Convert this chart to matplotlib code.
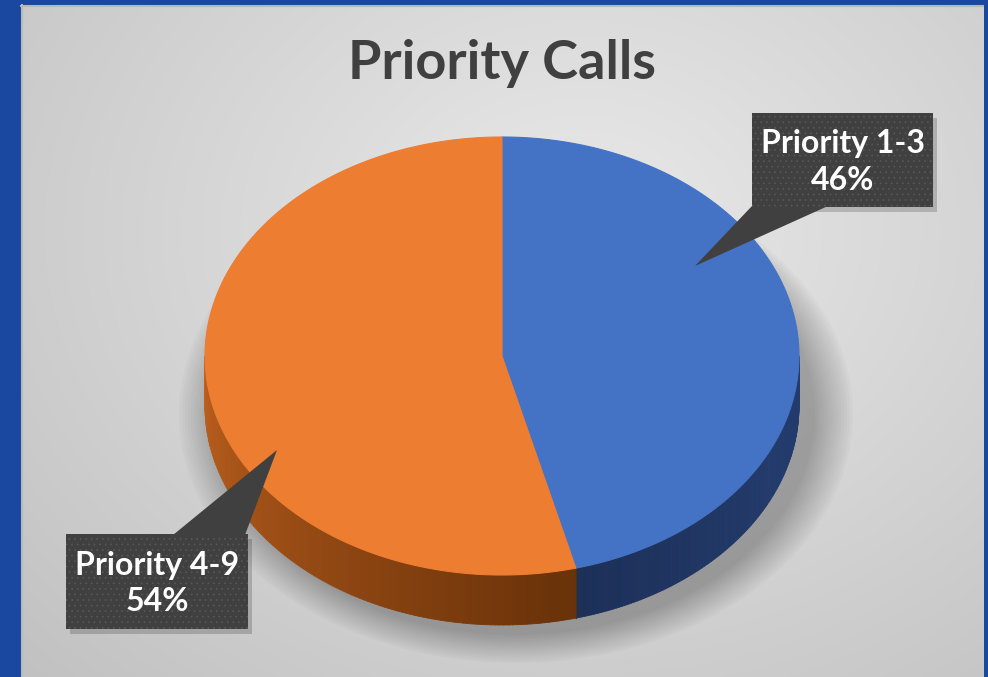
import numpy as np
import matplotlib
matplotlib.use('Agg')
import matplotlib.pyplot as plt
from matplotlib.patches import Polygon, Rectangle, Ellipse
from matplotlib.collections import PolyCollection

plt.rcParams['font.family'] = ['Lato', 'DejaVu Sans']

# chart data
labels = ['Priority 1-3', 'Priority 4-9']
shares = [46, 54]
top_colors = ['#4472C4', '#ED7D31']
side_light = ['#233B6C', '#BE601E']
side_dark = ['#1C3058', '#6B3309']

W, H = 988, 677
fig = plt.figure(figsize=(W / 100, H / 100), dpi=100)
ax = fig.add_axes([0, 0, 1, 1])
ax.set_xlim(0, W)
ax.set_ylim(H, 0)
ax.axis('off')

# blue frame + gray radial gradient panel
ax.add_patch(Rectangle((0, 0), W, H, color='#1A47A0', zorder=0))
px0, py0, px1, py1 = 21, 5, 983, H
yy, xx = np.mgrid[py0:py1, px0:px1]
r = np.hypot((xx - 580) / 700.0, (yy - 230) / 560.0)
g = np.clip(0.915 - 0.14 * r, 0.76, 0.92)
img = np.dstack([g, g, g])
ax.imshow(img, extent=(px0, px1, py1, py0), zorder=1, aspect='auto', interpolation='bilinear')
ax.plot([px0, px1], [py0 + 1, py0 + 1], color='#B8B8B8', lw=1.5, zorder=1.1)
ax.plot([px0 + 1, px0 + 1], [py0, py1], color='#B8B8B8', lw=1.5, zorder=1.1)

# title
ax.text(502, 64, 'Priority Calls', ha='center', va='center', fontsize=39,
        fontweight='bold', color='#404040', zorder=5)

# pie geometry
cx, cy, a, b, depth = 502, 356, 297, 219, 50

def pt(theta, dy=0.0):
    t = np.radians(theta)
    return cx + a * np.cos(t), cy - b * np.sin(t) + dy

# soft shadow under pie
for i in range(14):
    k = i / 13.0
    ax.add_patch(Ellipse((cx + 14, cy + depth + 8), 2 * (a + 40 - 38 * k), 2 * (b + 30 - 28 * k),
                         color='black', alpha=0.018, lw=0, zorder=2))

total = float(sum(shares))
start = 90.0
slices = []
for i, s in enumerate(shares):
    t1 = start
    t2 = start - s / total * 360.0
    slices.append((t1, t2))
    start = t2

# side walls (front half only: angles 180..360)
for i, (t1, t2) in enumerate(slices):
    lo, hi = t2 % 360, t1 % 360
    if hi <= lo:
        hi += 360
    seg_lo, seg_hi = max(lo, 180), min(hi, 360)
    if seg_hi <= seg_lo:
        continue
    ts = np.linspace(seg_lo, seg_hi, 120)
    quads, cols = [], []
    c1 = np.array(matplotlib.colors.to_rgb(side_light[i]))
    c2 = np.array(matplotlib.colors.to_rgb(side_dark[i]))
    for j in range(len(ts) - 1):
        p1, p2 = pt(ts[j]), pt(ts[j + 1])
        q = [p1, p2, pt(ts[j + 1], depth), pt(ts[j], depth)]
        quads.append(q)
        tm = 0.5 * (ts[j] + ts[j + 1])
        if i == 1:
            f = np.clip((tm - 180) / 100.0, 0, 1)
        else:
            f = np.clip((tm - 285) / 50.0, 0, 1)
            f = 1 - f
        cols.append(c1 * (1 - f) + c2 * f)
    ax.add_collection(PolyCollection(quads, facecolors=cols, edgecolors=cols, lw=0.6, zorder=3))

# cut edge at the slice boundary on the front
for t1, t2 in slices:
    for t in (t1, t2):
        tt = t % 360
        if 180 < tt < 360:
            x0, y0 = pt(tt)
            ax.plot([x0, x0], [y0, y0 + depth], color='#4A3020', lw=0.8, zorder=3.1)

# top faces
for i, (t1, t2) in enumerate(slices):
    ts = np.linspace(t1, t2, 300)
    poly = [(cx, cy)] + [pt(t) for t in ts]
    ax.add_patch(Polygon(poly, closed=True, facecolor=top_colors[i],
                         edgecolor=top_colors[i], lw=0.8, zorder=4))

# callouts
def callout(box, tri, text):
    x0, y0, x1, y1 = box
    ax.add_patch(Rectangle((x0 + 4, y0 + 5), x1 - x0, y1 - y0, color='black', alpha=0.18, lw=0, zorder=5))
    ax.add_patch(Polygon(tri, closed=True, facecolor='#404040', edgecolor='none', zorder=6))
    ax.add_patch(Rectangle((x0, y0), x1 - x0, y1 - y0, facecolor='#404040', edgecolor='none', zorder=6))
    ax.add_patch(Rectangle((x0, y0), x1 - x0, y1 - y0, facecolor='none', edgecolor='#585858',
                           hatch='...', lw=0, zorder=6.1))
    ax.text((x0 + x1) / 2, (y0 + y1) / 2 + 2, text, ha='center', va='center', fontsize=23,
            fontweight='bold', color='white', linespacing=1.3, zorder=7)

plt.rcParams['hatch.linewidth'] = 0.5
callout((752, 113, 933, 207), [(752, 206), (828, 206), (695, 266)],
        f'{labels[0]}\n{shares[0]}%')
callout((66, 534, 248, 629), [(173, 535), (245, 535), (277, 450)],
        f'{labels[1]}\n{shares[1]}%')

fig.savefig('out.png', dpi=100)
